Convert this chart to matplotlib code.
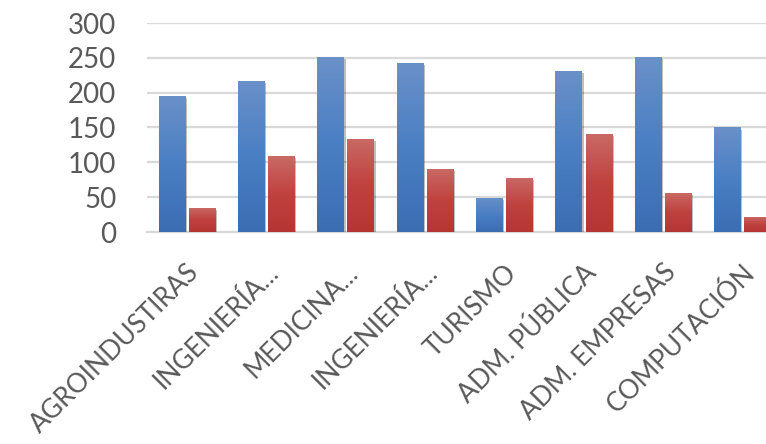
import numpy as np
import matplotlib
matplotlib.use("Agg")
import matplotlib.pyplot as plt
import matplotlib.patheffects as pe
from matplotlib.colors import LinearSegmentedColormap

categories = ["AGROINDUSTIRAS", "INGENIERÍA...", "MEDICINA...", "INGENIERÍA...",
              "TURISMO", "ADM. PÚBLICA", "ADM. EMPRESAS", "COMPUTACIÓN"]
series_blue = [195, 217, 251, 242, 49, 231, 251, 150]
series_red = [35, 109, 134, 91, 78, 141, 56, 22]
yticks = [0, 50, 100, 150, 200, 250, 300]

plt.rcParams['font.family'] = ['Lato', 'DejaVu Sans']

fig = plt.figure(figsize=(7.66, 4.44), dpi=100)
ax = fig.add_axes([147/766, 212/444, 635/766, 209/444])

x = np.arange(len(categories))
w = 0.33
off = 0.19

blue_cmap = LinearSegmentedColormap.from_list("b", ["#3b6db3", "#4a7fc4", "#6a90c8"])
red_cmap = LinearSegmentedColormap.from_list("r", ["#b53533", "#c0423f", "#c96a66"])

shadow = [pe.SimplePatchShadow(offset=(1.5, -1.5), shadow_rgbFace="#000000", alpha=0.25), pe.Normal()]

bb = ax.bar(x - off, series_blue, width=w, color="#4a7fc4", zorder=3, path_effects=shadow)
rb = ax.bar(x + off, series_red, width=w, color="#c0423f", zorder=3, path_effects=shadow)

grad = np.linspace(0, 1, 256).reshape(-1, 1)
for bars, cmap in ((bb, blue_cmap), (rb, red_cmap)):
    for p in bars:
        x0, y0 = p.get_x(), p.get_y()
        ww, hh = p.get_width(), p.get_height()
        im = ax.imshow(grad, cmap=cmap, origin="lower", aspect="auto",
                       extent=(x0, x0 + ww, y0, y0 + hh), zorder=4)
        im.set_clip_path(p)

ax.set_xlim(-0.5, len(categories) - 0.5)
ax.set_ylim(0, 300)
ax.set_yticks(yticks)
ax.set_xticks(x)
ax.set_xticklabels(categories, rotation=45, ha="right", va="top",
                   rotation_mode="anchor", fontsize=19, color="#595959")
ax.tick_params(axis="x", length=0, pad=20)
ax.tick_params(axis="y", length=0, pad=22, labelsize=20, labelcolor="#595959")
for lbl in ax.get_xticklabels():
    lbl.set_color("#595959")

ax.grid(axis="y", color="#d9d9d9", linewidth=1.6, zorder=0)
ax.set_axisbelow(True)
for s in ["top", "right", "left"]:
    ax.spines[s].set_visible(False)
ax.spines["bottom"].set_color("#d9d9d9")
ax.spines["bottom"].set_linewidth(1.6)

fig.savefig("out.png", dpi=100)
